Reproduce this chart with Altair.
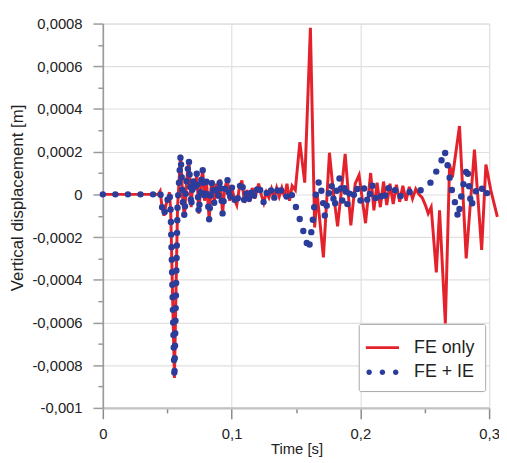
import altair as alt
import pandas as pd

SCALE = 1e-4  # values below are in units of 1e-4 m

# shared part (both models coincide)
t_shared = [0.0, 0.01, 0.02, 0.03, 0.043, 0.0445, 0.046, 0.0475, 0.049, 0.0505, 0.0518,
            0.0527, 0.0556, 0.058, 0.0604, 0.0622, 0.0634, 0.065, 0.0668, 0.0686, 0.070,
            0.0715, 0.073, 0.0745, 0.076, 0.0775, 0.079, 0.0805, 0.0826, 0.084, 0.085,
            0.0865, 0.088, 0.0895, 0.091, 0.093, 0.0945, 0.0967, 0.0985, 0.100, 0.102,
            0.104, 0.106, 0.108, 0.110, 0.112, 0.114, 0.116, 0.118, 0.121, 0.123, 0.125,
            0.127, 0.129, 0.131, 0.133, 0.135, 0.137, 0.139]
v_shared = [0.0, 0.0, 0.0, 0.0, 0.0, 0.15, -0.6, -1.0, -0.5, -0.2, 0.1,
            -0.8, -8.6, -0.6, 1.85, -0.4, -1.05, 0.6, 1.65, -0.6, 0.7,
            0.2, 1.0, -0.9, 0.3, 1.2, -0.3, 0.6, -1.2, 0.3, 0.65,
            -0.4, 0.5, -0.2, 0.7, -0.9, 0.2, 0.75, -0.3, 0.4, -0.2,
            -0.5, 0.3, 0.65, -0.4, 0.2, -0.35, 0.3, -0.2, 0.5, 0.0, -0.4,
            0.1, -0.15, 0.25, -0.2, 0.3, -0.1, 0.3]

# FE only (red) after divergence
t_fe = [0.141, 0.143, 0.145, 0.147, 0.1495, 0.153, 0.1568, 0.1612, 0.1645, 0.1665, 0.1713,
        0.176, 0.179, 0.1823, 0.1855, 0.1882, 0.1926, 0.196, 0.199, 0.204, 0.208, 0.2105,
        0.213, 0.2155, 0.218, 0.2205, 0.223, 0.2255, 0.228, 0.2305, 0.233, 0.2355, 0.238,
        0.2405, 0.243, 0.2455, 0.248, 0.2505, 0.2527, 0.255, 0.259, 0.2615, 0.266, 0.2693,
        0.2715, 0.277, 0.2822, 0.2886, 0.2942, 0.2975, 0.3013, 0.3064]
v_fe = [-0.1, 0.5, -0.3, 0.4, 0.2, 2.45, 0.55, 7.8, -1.55, 0.0, -2.95,
        1.95, 0.1, -1.5, 0.3, 1.9, -1.45, 0.5, 0.9, -1.35, 1.0, -0.75,
        0.55, -0.6, 0.6, -0.5, 0.5, -0.45, 0.45, -0.35, 0.4, -0.3, 0.35,
        -0.2, 0.25, 0.0, -0.15, -0.5, -0.9, -0.6, -3.65, -0.75, -6.05, 1.4,
        0.8, 3.2, -3.0, 2.1, -2.6, 1.4, 0.2, -1.05]

# FE + IE (blue) after divergence
t_ie = [0.141, 0.1435, 0.146, 0.1485, 0.151, 0.154, 0.157, 0.160, 0.1625, 0.1645, 0.166,
        0.168, 0.170, 0.1725, 0.175, 0.1775, 0.180, 0.182, 0.184, 0.186, 0.188, 0.190,
        0.192, 0.1945, 0.197, 0.200, 0.203, 0.206, 0.209, 0.212, 0.215, 0.218, 0.221,
        0.224, 0.227, 0.230, 0.233, 0.236, 0.239, 0.242, 0.2455, 0.2502, 0.2553, 0.2592,
        0.2625, 0.2655, 0.2675, 0.2707, 0.2732, 0.276, 0.279, 0.283, 0.286, 0.290,
        0.2937, 0.296, 0.299, 0.301]
v_ie = [0.1, -0.2, 0.1, -0.3, -0.8, -1.35, -2.0, -2.6, -1.5, -0.4, 0.2,
        0.65, 0.1, -1.05, -0.1, 0.5, -0.6, 0.3, 0.8, -0.3, 0.5, -0.5,
        0.2, -0.1, 0.4, -0.3, 0.3, -0.4, 0.5, -0.2, 0.1, -0.35, 0.4,
        0.0, 0.2, -0.2, 0.1, 0.0, 0.15, 0.05, 0.15, 0.3, 0.6, 1.1,
        1.5, 2.05, 1.45, 0.3, -0.3, -1.1, 0.2, 1.3, -0.6, 0.2,
        0.45, -0.1, 0.1, 0.0]

series_names = ["FE only", "FE + IE"]
x_ticks = [0.0, 0.05, 0.1, 0.15, 0.2, 0.25, 0.3]
y_ticks = [-0.001, -0.0009, -0.0008, -0.0007, -0.0006, -0.0005, -0.0004, -0.0003,
           -0.0002, -0.0001, 0.0, 0.0001, 0.0002, 0.0003, 0.0004, 0.0005, 0.0006,
           0.0007, 0.0008]

rows = []
for name, tt, vv in [(series_names[0], t_fe, v_fe), (series_names[1], t_ie, v_ie)]:
    for t, v in zip(t_shared + tt, v_shared + vv):
        rows.append({"series": name, "t": t, "v": v * SCALE})
df = pd.DataFrame(rows)

RED = "#e3222b"
BLUE = "#2c3c9a"
FONT = "Liberation Sans"

color_scale = alt.Scale(domain=series_names, range=[RED, BLUE])
red_sym = "M-1.2,-0.1H1.2V0.1H-1.2Z"
dot = lambda cx: f"M{cx - 0.2:.2f},0A0.2,0.2 0 1,0 {cx + 0.2:.2f},0A0.2,0.2 0 1,0 {cx - 0.2:.2f},0Z"
blue_sym = dot(-0.96) + dot(0.0) + dot(0.96)
shape_scale = alt.Scale(domain=series_names, range=[red_sym, blue_sym])

y_minor = "abs(round(datum.value*10000)) % 2 == 1"
x_minor = "round(datum.value*100) % 10 != 0"

x_enc = alt.X(
    "t:Q",
    scale=alt.Scale(domain=[0, 0.3], nice=False, zero=False),
    axis=alt.Axis(
        values=x_ticks,
        labelExpr=f"{x_minor} ? '' : replace(format(datum.value, '~g'), '.', ',')",
        tickSize={"condition": {"test": x_minor, "value": 5}, "value": 11},
        gridOpacity={"condition": {"test": x_minor, "value": 0}, "value": 1},
        grid=True, gridColor="#e0e0e0", gridWidth=1.2,
        domainColor="#c2c2c2", domainWidth=2.2,
        tickColor="#8a8a8a", tickWidth=1.5,
        labelFont=FONT, labelFontSize=15, labelColor="#222222", labelPadding=8,
        labelFlush=False,
        title="Time [s]", titleFont=FONT, titleFontSize=15, titleFontWeight="normal",
        titleColor="#222222", titleX=196, titleY=41, titleBaseline="middle",
        titleAlign="center",
    ),
)
y_enc = alt.Y(
    "v:Q",
    scale=alt.Scale(domain=[-0.001, 0.0008], nice=False, zero=False),
    axis=alt.Axis(
        values=y_ticks,
        labelExpr=f"{y_minor} ? '' : (datum.value < 0 ? '-' : '') + replace(format(abs(datum.value), '~g'), '.', ',')",
        tickSize={"condition": {"test": y_minor, "value": 5}, "value": 10},
        gridOpacity={"condition": {"test": y_minor, "value": 0}, "value": 1},
        grid=True, gridColor="#e0e0e0", gridWidth=1.2,
        domainColor="#9a9a9a", domainWidth=1.6,
        tickColor="#9a9a9a", tickWidth=1.5,
        labelFont=FONT, labelFontSize=15, labelColor="#222222", labelPadding=11,
        labelFlush=False,
        title="Vertical displacement [m]", titleFont=FONT, titleFontSize=17,
        titleFontWeight="normal", titleColor="#222222", titleAngle=-90,
        titleX=-86, titleY=176, titleBaseline="middle", titleAlign="center",
    ),
)

base = alt.Chart(df)

red_line = base.transform_filter(alt.datum.series == series_names[0]).mark_line(
    strokeWidth=3, clip=False, color=RED
).encode(x=x_enc, y=y_enc)

blue_line = base.transform_filter(alt.datum.series == series_names[1]).mark_line(
    strokeWidth=6.5, strokeDash=[0, 12.7], strokeCap="round", clip=False, color=BLUE
).encode(x=x_enc, y=y_enc)

leg_props = dict(
    orient="none", legendX=259, legendY=304, title=None,
    labelFont=FONT, labelFontSize=18, labelColor="#222222",
    symbolSize=784, symbolStrokeWidth=0, symbolOpacity=1, rowPadding=2, labelOffset=18,
    padding=10, strokeColor="#a8a8a8", fillColor="white", cornerRadius=2,
)
legend_layer = base.transform_filter("false").mark_point(
    filled=True, opacity=1, strokeWidth=0
).encode(
    x=x_enc, y=y_enc,
    color=alt.Color("series:N", scale=color_scale, legend=alt.Legend(**leg_props)),
    shape=alt.Shape("series:N", scale=shape_scale, legend=alt.Legend(**leg_props)),
)

chart = alt.layer(red_line, blue_line, legend_layer).properties(
    width=391, height=389,
    autosize=alt.AutoSizeParams(type="none"),
    padding={"left": 96, "top": 13, "right": 10, "bottom": 50},
).configure_view(stroke=None).configure(background="white")

chart.save("out.html", embed_options={"renderer": "svg", "actions": False})
